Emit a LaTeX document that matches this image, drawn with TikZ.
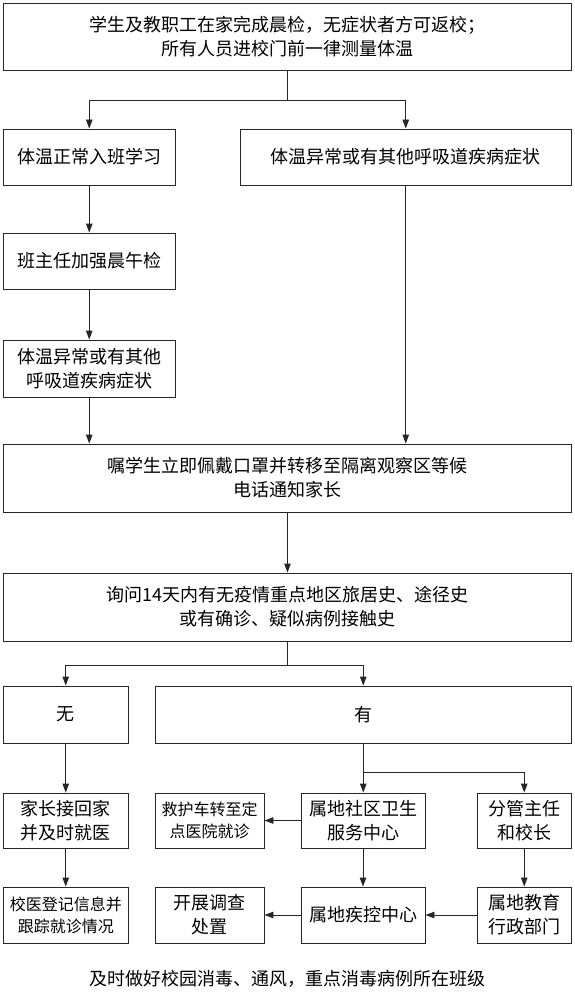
\documentclass[tikz,border=0pt]{standalone}
\usepackage{fontspec}
\setmainfont{Noto Sans CJK SC}
\usetikzlibrary{arrows.meta}
\begin{document}
\begin{tikzpicture}[x=1pt,y=-1pt,
  box/.style={draw=black!85,line width=0.9pt,inner sep=0pt,align=center,
    font=\fontsize{18}{24}\selectfont},
  smallbox/.style={box,font=\fontsize{16}{22}\selectfont},
  line/.style={draw=black!85,line width=0.9pt},
  arr/.style={line,-{Triangle[length=9pt,width=6.5pt]}}]
\useasboundingbox (0,0) rectangle (575,1003);
% row 1
\node[box,minimum width=568pt,minimum height=66.5pt] (b1) at (287.5,36.75)
  {学生及教职工在家完成晨检，无症状者方可返校；\\所有人员进校门前一律测量体温};
% row 2
\node[box,minimum width=171.5pt,minimum height=56pt] (bA) at (89.25,157) {体温正常入班学习};
\node[box,minimum width=331.5pt,minimum height=56pt] (bB) at (405.75,157) {体温异常或有其他呼吸道疾病症状};
\node[box,minimum width=171.5pt,minimum height=56pt] (bC) at (89.25,261) {班主任加强晨午检};
\node[box,minimum width=171.5pt,minimum height=57pt] (bD) at (89.25,368.5) {体温异常或有其他\\呼吸道疾病症状};
\node[box,minimum width=568pt,minimum height=68pt] (bE) at (287.5,478)
  {嘱学生立即佩戴口罩并转移至隔离观察区等候\\电话通知家长};
\node[box,minimum width=568pt,minimum height=68pt] (bF) at (287.5,607)
  {询问14天内有无疫情重点地区旅居史、途径史\\或有确诊、疑似病例接触史};
\node[box,minimum width=124.5pt,minimum height=57pt] (bG) at (65.75,714.5) {无};
\node[box,minimum width=416.5pt,minimum height=57pt] (bH) at (363.25,714.5) {有};
% row 4
\node[box,minimum width=124.5pt,minimum height=55pt] (bI) at (65.75,820.5) {家长接回家\\并及时就医};
\node[smallbox,minimum width=109pt,minimum height=55pt] (bJ) at (209.5,820.5) {救护车转至定\\点医院就诊};
\node[box,minimum width=124pt,minimum height=55pt] (bK) at (363,820.5) {属地社区卫生\\服务中心};
\node[box,minimum width=94.5pt,minimum height=55pt] (bL) at (524.25,820.5) {分管主任\\和校长};
% row 5
\node[smallbox,minimum width=124.5pt,minimum height=56pt] (bM) at (65.75,915) {校医登记信息并\\跟踪就诊情况};
\node[box,minimum width=109pt,minimum height=56pt] (bN) at (209.5,915) {开展调查\\处置};
\node[box,minimum width=124pt,minimum height=56pt] (bO) at (363,915) {属地疾控中心};
\node[box,minimum width=94.5pt,minimum height=56pt] (bP) at (524.25,915) {属地教育\\行政部门};
% footer
\node[font=\fontsize{18}{24}\selectfont,inner sep=0pt] (foot) at (287.5,979)
  {及时做好校园消毒、通风，重点消毒病例所在班级};
% connectors
\coordinate (s1) at (287.5,100);
\coordinate (s2) at (287.5,665);
\coordinate (s3) at (363.25,772);
\draw[line] (b1.south) -- (s1);
\draw[arr] (s1) -| (bA.north);
\draw[arr] (s1) -| (bB.north);
\draw[arr] (bA.south) -- (bC.north);
\draw[arr] (bC.south) -- (bD.north);
\draw[arr] (bD.south) -- (bD.south |- bE.north);
\draw[arr] (bB.south) -- (bB.south |- bE.north);
\draw[arr] (bE.south) -- (bF.north);
\draw[line] (bF.south) -- (s2);
\draw[arr] (s2) -| (bG.north);
\draw[arr] (s2) -| (bH.north);
\draw[arr] (bG.south) -- (bI.north);
\draw[line] (bH.south) -- (s3);
\draw[arr] (s3) -- (s3 |- bK.north);
\draw[arr] (s3) -| (bL.north);
\draw[arr] (bK.west) -- (bJ.east);
\draw[arr] (bI.south) -- (bM.north);
\draw[arr] (bK.south) -- (bO.north);
\draw[arr] (bL.south) -- (bP.north);
\draw[arr] (bP.west) -- (bO.east);
\draw[arr] (bO.west) -- (bN.east);
\end{tikzpicture}
\end{document}
